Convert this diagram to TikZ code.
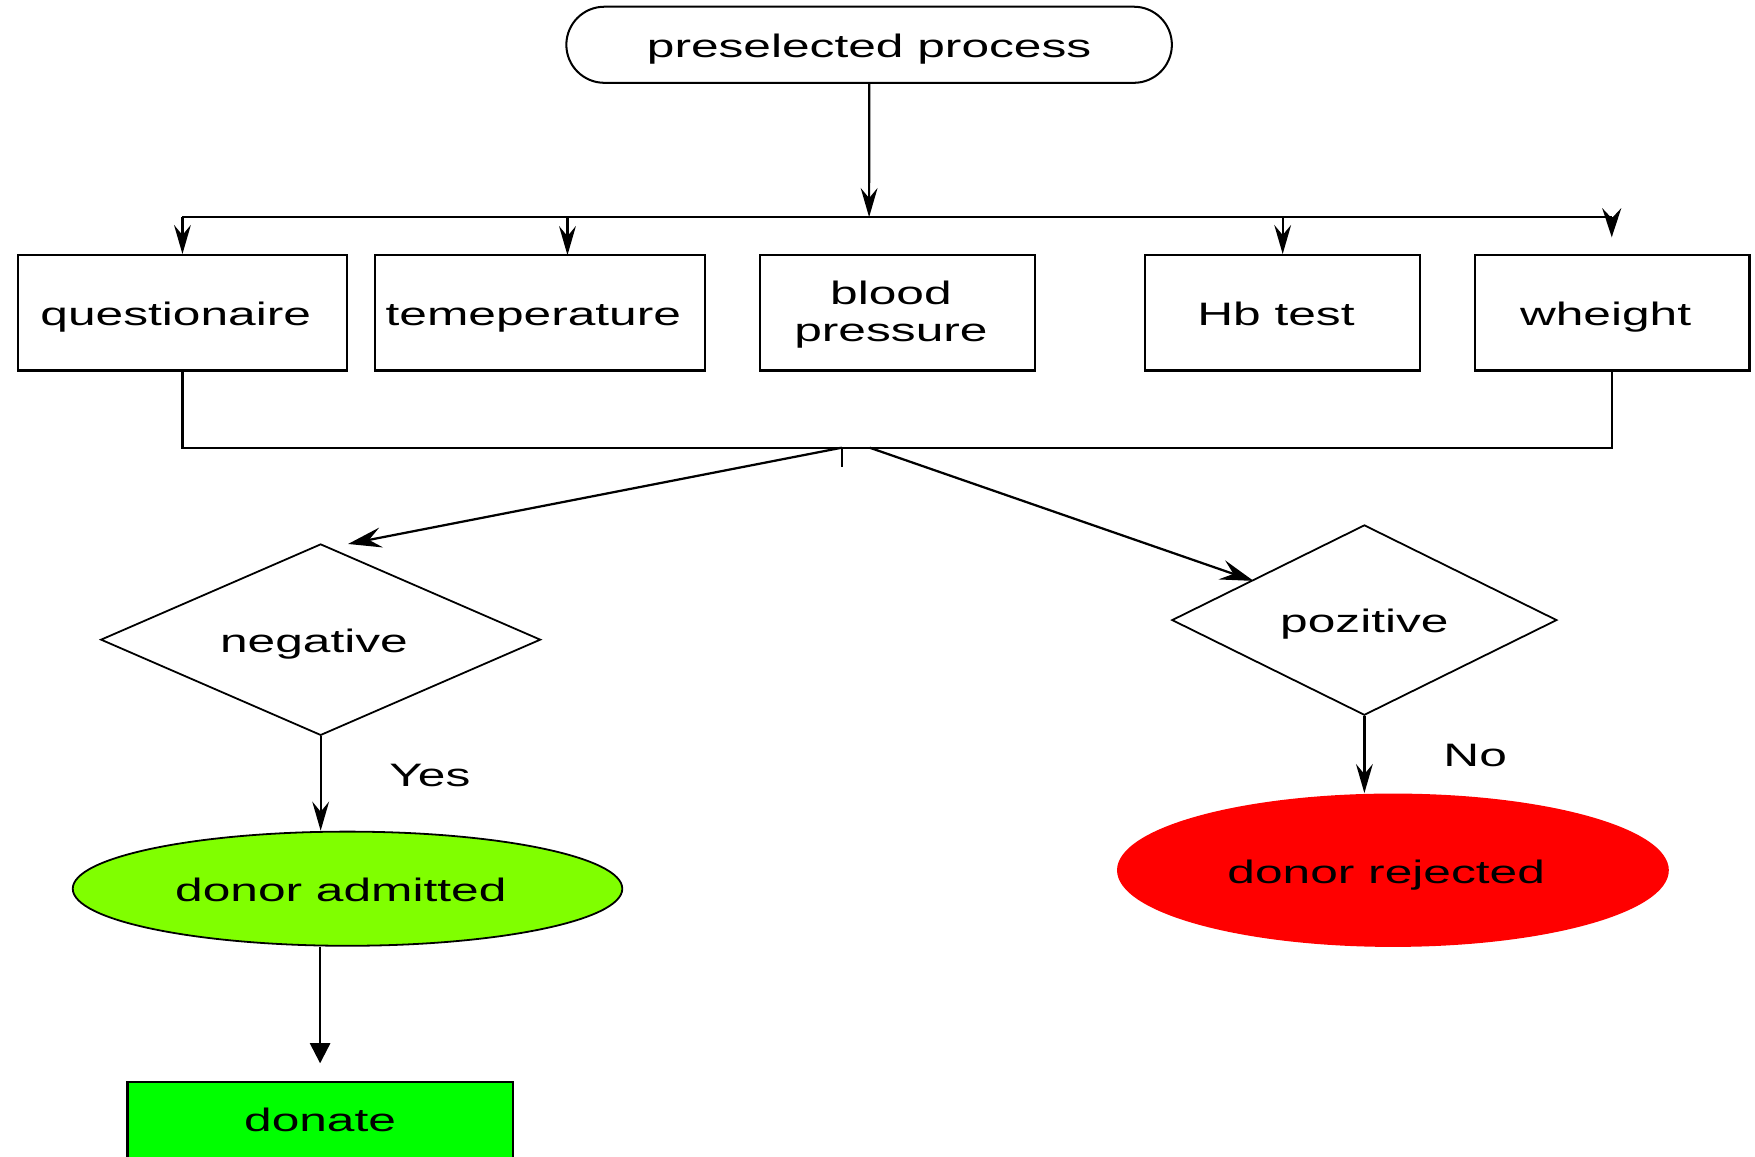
\documentclass[tikz,border=0pt]{standalone}
\usepackage{fontspec}
\setmainfont{Liberation Sans}[FakeStretch=1.53]
\usetikzlibrary{arrows.meta,shapes.geometric,shapes.misc,calc}
\definecolor{admitgreen}{HTML}{80FF00}
\definecolor{donategreen}{HTML}{00FF00}
\definecolor{rejectred}{HTML}{FF0000}
\begin{document}
\begin{tikzpicture}[x=0.5pt,y=-0.5pt,
  lblfont/.style={font=\fontsize{14.5}{16.5}\selectfont},
  lbl/.style={lblfont,text height=12pt,text depth=0.5pt},
  stadium/.style={draw,line width=0.9pt,rounded rectangle,minimum width=270.5pt,minimum height=34pt,inner sep=0pt,lbl},
  boxframe/.style={draw,line width=1pt,minimum width=123pt,minimum height=51.5pt,inner sep=0pt},
  boxnode/.style={boxframe,lbl},
  decision/.style={draw,diamond,line width=0.8pt,inner sep=0pt,lbl},
  oval/.style={ellipse,inner sep=0pt,lbl},
  conn/.style={line width=1pt},
  arr/.style={conn,-{Stealth[length=13pt,width=7.5pt,inset=4.5pt]}},
  bigarr/.style={conn,-{Stealth[length=13pt,width=8.5pt,inset=4.5pt]}},
  diagarr/.style={conn,-{Stealth[length=15pt,width=9pt,inset=5.5pt]}},
  tri/.style={conn,-{Triangle[length=9pt,width=9pt]}}]
\useasboundingbox (0,0) rectangle (1568,1033);
\clip (0,0) rectangle (1568,1033);

% nodes
\node[stadium] (start) at (776.5,40) {preselected process};
\node[boxnode,minimum width=147pt] (q) at (163,279.5) {questionaire\hspace*{6pt}};
\node[boxnode,minimum width=147.5pt] (t) at (482.5,279.5) {temeperature\hspace*{6pt}};
\node[boxframe,lblfont,align=center] (bp) at (802,279.5) {\rule{0pt}{12.1pt}blood\hspace*{6pt}\\pressure\hspace*{6pt}};
\node[boxnode] (hb) at (1146,279.5) {Hb test\hspace*{6pt}};
\node[boxnode,minimum width=122.5pt] (w) at (1440.5,279.5) {wheight\hspace*{6pt}};

\node[decision,aspect=2.3,minimum width=196.5pt,minimum height=85.5pt] (neg) at (286.5,571.5) {negative\hspace*{6pt}};
\node[decision,aspect=2,minimum width=172pt,minimum height=85pt] (poz) at (1219,554) {pozitive};

\node[oval,draw,line width=0.8pt,fill=admitgreen,minimum width=245.5pt,minimum height=51pt] (adm) at (310.5,794) {donor admitted\hspace*{6pt}};
\node[oval,fill=rejectred,minimum width=246.5pt,minimum height=68.5pt] (rej) at (1244.5,777.5) {donor rejected\hspace*{6pt}};

\node[draw,line width=1pt,fill=donategreen,minimum width=172pt,minimum height=40pt,inner sep=0pt,anchor=north,lblfont,text height=12pt,text depth=8.5pt] (don) at (286,966) {donate};

\node[lbl] (yes) at (384,691) {Yes};
\node[lbl] (no) at (1318,673) {No};

% connectors
\coordinate (bus) at (776.5,194);
\draw[arr] (start) -- (bus);
\draw[conn] (q.north |- bus) -- (w.north |- bus);
\draw[arr] (q.north |- bus) -- (q.north);
\coordinate (tin) at (507,228);
\draw[arr] (tin |- bus) -- (tin);
\draw[arr] (hb.north |- bus) -- (hb.north);
\coordinate (win) at (1440,212);
\draw[bigarr] (win |- bus) -- (win);

\coordinate (merge) at (752,400);
\coordinate (split) at (777,400);
\draw[conn] (q.south) -- (q.south |- merge) -- (w.south |- merge) -- (w.south);
\draw[line width=0.8pt] (merge) -- ++(0,17);
\coordinate (negin) at (311,486);
\coordinate (pozin) at (1120,519);
\draw[diagarr] (merge) -- (negin);
\draw[diagarr] (split) -- (pozin);

\draw[arr] (neg.south) -- (neg.south |- adm.north);
\draw[tri,shorten >=8pt] (don.north |- adm.south) -- (don.north);
\draw[arr] (poz.south) -- (poz.south |- rej.north);
\end{tikzpicture}
\end{document}
